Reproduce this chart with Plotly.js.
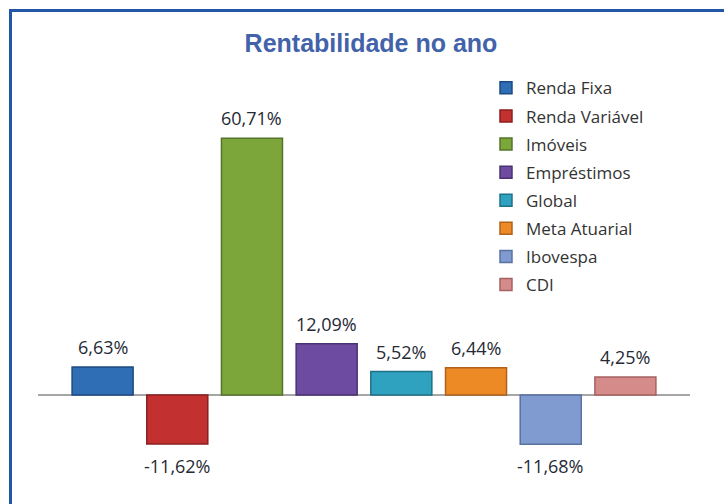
<!DOCTYPE html>
<html>
<head>
<meta charset="utf-8">
<script src="https://cdn.plot.ly/plotly-3.0.1.min.js"></script>
<style>
  html, body { margin: 0; padding: 0; background: #ffffff; }
  #wrap { position: relative; width: 724px; height: 504px; overflow: hidden; }
  #chart { position: absolute; left: 0; top: 0; width: 724px; height: 504px; }
  #frame { position: absolute; left: 9px; top: 9px; width: 800px; height: 600px;
           border-left: 3px solid #2257a8; border-top: 3px solid #2257a8; pointer-events: none; }
</style>
</head>
<body>
<div id="wrap">
  <div id="chart"></div>
  <div id="frame"></div>
</div>
<script>
// ---- data ----
var categories = ["Renda Fixa", "Renda Variável", "Imóveis", "Empréstimos", "Global", "Meta Atuarial", "Ibovespa", "CDI"];
var values = [6.63, -11.62, 60.71, 12.09, 5.52, 6.44, -11.68, 4.25];
var fillColors = ["#2f6db5", "#c2302f", "#7ca53a", "#6c4ba0", "#2ea2bf", "#ee8a26", "#7f9bcf", "#d68b8b"];
var lineColors = ["#1d4a80", "#8a1f1f", "#55752a", "#4a3272", "#1f7187", "#b0621a", "#5a72a0", "#a56262"];
var chartTitle = "Rentabilidade no ano";

function fmt(v) { return v.toFixed(2).replace(".", ",") + "%"; }

var traces = categories.map(function (c, i) {
  return {
    type: "bar",
    name: c,
    x: [c],
    y: [values[i]],
    width: 0.817,
    legendgroup: "g" + i,
    marker: { color: fillColors[i], line: { color: lineColors[i], width: 1.5 } },
    hoverinfo: "name+y"
  };
});

var annotations = categories.map(function (c, i) {
  var v = values[i];
  return {
    x: c, y: v, xref: "x", yref: "y",
    text: fmt(v), showarrow: false,
    yanchor: v >= 0 ? "bottom" : "top",
    yshift: v >= 0 ? 6 : -8,
    font: { family: "Open Sans, sans-serif", size: 18, color: "#262a35" }
  };
});

var layout = {
  width: 724, height: 504,
  paper_bgcolor: "#ffffff", plot_bgcolor: "#ffffff",
  margin: { l: 38, r: 34, t: 60, b: 33 },
  title: {
    text: chartTitle,
    xref: "container", x: 371 / 724, xanchor: "center",
    yref: "container", y: 1 - 43 / 504, yanchor: "middle",
    font: { family: "Liberation Sans, Arial, sans-serif", size: 25, color: "#4262aa", weight: 700 }
  },
  barmode: "overlay",
  xaxis: {
    type: "category", range: [-0.865, 7.865],
    showticklabels: false, showgrid: false, zeroline: false, showline: false, ticks: ""
  },
  yaxis: {
    range: [-18, 79.23], showticklabels: false, showgrid: false,
    zeroline: true, zerolinecolor: "#a6a6a6", zerolinewidth: 2, showline: false, ticks: ""
  },
  showlegend: true,
  legend: {
    xref: "paper", yref: "paper",
    x: 0.6871, xanchor: "left",
    y: 0.975, yanchor: "top",
    font: { family: "Open Sans, sans-serif", size: 17, color: "#333333" },
    tracegroupgap: 3,
    bgcolor: "rgba(0,0,0,0)"
  },
  annotations: annotations
};

Plotly.newPlot("chart", traces, layout, { displayModeBar: false, staticPlot: true });
</script>
</body>
</html>
